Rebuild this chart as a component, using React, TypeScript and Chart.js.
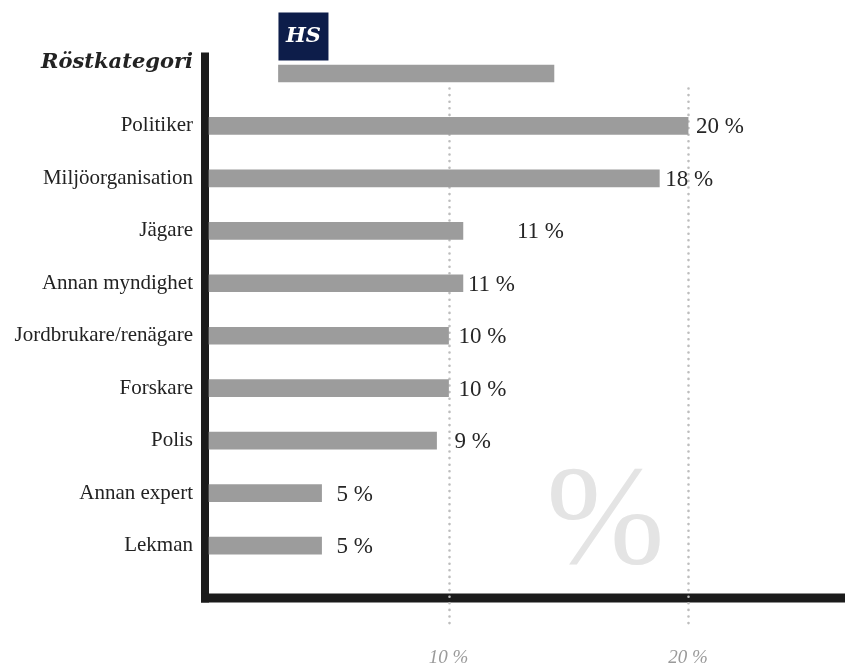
import React, { useEffect, useRef } from 'react';
import { Chart, registerables } from 'chart.js';

Chart.register(...registerables);

const categories = [
  'Politiker',
  'Miljöorganisation',
  'Jägare',
  'Annan myndighet',
  'Jordbrukare/renägare',
  'Forskare',
  'Polis',
  'Annan expert',
  'Lekman',
];
const values = [20, 18.8, 10.6, 10.6, 10, 10, 9.5, 4.7, 4.7];
const valueLabels = ['20 %', '18 %', '11 %', '11 %', '10 %', '10 %', '9 %', '5 %', '5 %'];
const headerBar: [number, number] = [2.9, 14.4];
const xTickValues = [10, 20];
const axisTitle = 'Röstkategori';
const logoText = 'HS';
const watermark = '%';

// gap (px) between each bar end and its value label, as in the original
const labelGaps = [8, 6, 54, 5, 10, 10, 18, 15, 15];

const BAR_COLOR = '#9c9c9c';

const decorPlugin = {
  id: 'decor',
  beforeDatasetsDraw(chart: any) {
    const { ctx, chartArea, scales } = chart;
    const xs = scales.x;
    const ys = scales.y;
    ctx.save();
    ctx.font = '142px "Liberation Serif"';
    ctx.fillStyle = '#e4e4e4';
    ctx.textAlign = 'center';
    ctx.textBaseline = 'middle';
    ctx.fillText(watermark, xs.getPixelForValue(16.55), ys.getPixelForValue(8.62));

    ctx.strokeStyle = '#1b1b1b';
    ctx.lineWidth = 8;
    ctx.lineCap = 'butt';
    ctx.beginPath();
    ctx.moveTo(chartArea.left - 4, chartArea.top);
    ctx.lineTo(chartArea.left - 4, chartArea.bottom + 4.5);
    ctx.stroke();
    ctx.lineWidth = 9;
    ctx.beginPath();
    ctx.moveTo(chartArea.left - 8, chartArea.bottom);
    ctx.lineTo(chartArea.right, chartArea.bottom);
    ctx.stroke();

    ctx.strokeStyle = '#bdbdbd';
    ctx.lineWidth = 2.6;
    ctx.lineCap = 'round';
    ctx.setLineDash([0, 6.6]);
    xTickValues.forEach((v) => {
      const x = Math.round(xs.getPixelForValue(v)) + 0.5;
      ctx.beginPath();
      ctx.moveTo(x, chartArea.top + 36);
      ctx.lineTo(x, chartArea.bottom + 28);
      ctx.stroke();
    });
    ctx.setLineDash([]);
    ctx.restore();
  },
  afterDatasetsDraw(chart: any) {
    const { ctx, chartArea, scales } = chart;
    const xs = scales.x;
    ctx.save();
    ctx.font = 'italic bold 21px "DejaVu Serif"';
    ctx.fillStyle = '#222';
    ctx.textAlign = 'right';
    ctx.textBaseline = 'alphabetic';
    ctx.fillText(axisTitle, chartArea.left - 16, chartArea.top + 15.5);

    const lx = xs.getPixelForValue(headerBar[0]);
    ctx.fillStyle = '#0d1d4a';
    ctx.fillRect(lx, chartArea.top - 40, 50, 48);
    ctx.font = 'italic bold 21px "DejaVu Serif"';
    ctx.fillStyle = '#ffffff';
    ctx.textAlign = 'center';
    ctx.textBaseline = 'middle';
    ctx.fillText(logoText, lx + 25, chartArea.top - 16);

    const meta = chart.getDatasetMeta(0);
    ctx.font = '23px "Liberation Serif"';
    ctx.fillStyle = '#262626';
    ctx.textAlign = 'left';
    ctx.textBaseline = 'middle';
    valueLabels.forEach((t, i) => {
      const el = meta.data[i + 1];
      if (!el) return;
      ctx.fillText(t, el.x + labelGaps[i], el.y + 1.5);
    });
    ctx.restore();
  },
};

export default function App() {
  const canvasRef = useRef<HTMLCanvasElement | null>(null);

  useEffect(() => {
    if (!canvasRef.current) return;
    const data = [
      { x: headerBar, y: 0 },
      ...values.map((v, i) => ({ x: v, y: i + 1 })),
    ];
    const chart = new Chart(canvasRef.current, {
      type: 'bar',
      data: {
        datasets: [
          {
            data: data as any,
            backgroundColor: BAR_COLOR,
            borderWidth: 0,
            barThickness: 17,
            clip: false as any,
          },
        ],
      },
      options: {
        indexAxis: 'y',
        animation: false,
        responsive: true,
        maintainAspectRatio: false,
        layout: { padding: { top: 52.5, left: 0, right: 0, bottom: 0 } },
        plugins: {
          legend: { display: false },
          tooltip: { enabled: false },
        },
        scales: {
          x: {
            type: 'linear',
            min: 0,
            max: 26.55,
            offset: false,
            grid: { display: false, drawTicks: false },
            border: { display: false },
            ticks: {
              stepSize: 10,
              padding: 49,
              color: '#9a9a9a',
              font: { family: '"Liberation Serif"', size: 19, style: 'italic' },
              maxRotation: 0,
              autoSkip: false,
              callback: (v: any) => (xTickValues.includes(Number(v)) ? `${v} %` : ''),
            },
            afterFit: (s: any) => {
              s.height = 68;
              s.paddingLeft = 0;
              s.paddingRight = 0;
            },
          },
          y: {
            type: 'linear',
            reverse: true,
            min: -0.4,
            max: 10,
            offset: false,
            grid: { display: false, drawTicks: false, offset: false },
            border: { display: false },
            afterBuildTicks: (s: any) => {
              s.ticks = categories.map((_, i) => ({ value: i + 1 }));
            },
            ticks: {
              padding: 16,
              color: '#222',
              autoSkip: false,
              font: { family: '"Liberation Serif"', size: 21 },
              callback: (v: any) => categories[Number(v) - 1] ?? '',
            },
            afterFit: (s: any) => {
              s.width = 209;
              s.paddingTop = 0;
              s.paddingBottom = 0;
            },
          },
        },
      },
      plugins: [decorPlugin],
    });
    return () => chart.destroy();
  }, []);

  return (
    <div style={{ position: 'absolute', left: 0, top: 0, width: 845, height: 666, background: '#fff' }}>
      <canvas ref={canvasRef} />
    </div>
  );
}
